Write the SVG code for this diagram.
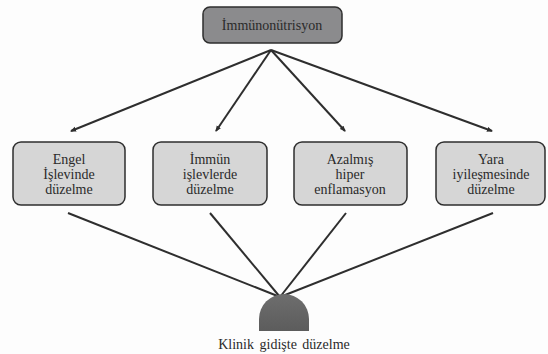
<svg xmlns="http://www.w3.org/2000/svg" width="548" height="354" viewBox="0 0 548 354">
<style>
.box{stroke:#2e2e2e;stroke-width:1.5}
.sub{fill:#d6d6d6}
.top{fill:#8b8b8d}
.t{font-family:'Liberation Serif','Times New Roman',serif;font-size:14px;fill:#2a2a2a;text-anchor:middle}
.ln{stroke:#2e2e2e;stroke-width:2;fill:none}
</style>
<defs>
<marker id="ah" markerWidth="6" markerHeight="6" refX="5" refY="3" orient="auto" markerUnits="userSpaceOnUse">
<path d="M0,0.5 L6,3 L0,5.5 Z" fill="#2e2e2e"/>
</marker>
<linearGradient id="dome" x1="0" y1="0" x2="0" y2="1">
<stop offset="0" stop-color="#6e6e6e"/>
<stop offset="1" stop-color="#5c5c5c"/>
</linearGradient>
</defs>
<rect width="548" height="354" fill="#fdfdfd"/>
<g id="connectors">
<line class="ln" x1="271" y1="50" x2="71" y2="131" marker-end="url(#ah)"/>
<line class="ln" x1="271" y1="50" x2="216" y2="131" marker-end="url(#ah)"/>
<line class="ln" x1="271" y1="50" x2="345" y2="131" marker-end="url(#ah)"/>
<line class="ln" x1="271" y1="50" x2="492" y2="131" marker-end="url(#ah)"/>
<line class="ln" x1="68" y1="213" x2="280" y2="297"/>
<line class="ln" x1="210" y1="213" x2="280" y2="297"/>
<line class="ln" x1="346" y1="213" x2="280" y2="297"/>
<line class="ln" x1="493" y1="213" x2="280" y2="297"/>
</g>
<g id="n-top">
<rect class="box top" x="203" y="7" width="139" height="36" rx="7"/>
<text class="t" x="272" y="30">İmmünonütrisyon</text>
</g>
<g id="n1">
<rect class="box sub" x="13" y="142" width="112" height="63" rx="8"/>
<text class="t" x="69" y="164">Engel</text>
<text class="t" x="69" y="179">İşlevinde</text>
<text class="t" x="69" y="194">düzelme</text>
</g>
<g id="n2">
<rect class="box sub" x="153" y="142" width="114" height="63" rx="8"/>
<text class="t" x="210" y="164">İmmün</text>
<text class="t" x="210" y="179">işlevlerde</text>
<text class="t" x="210" y="194">düzelme</text>
</g>
<g id="n3">
<rect class="box sub" x="294" y="142" width="113" height="63" rx="8"/>
<text class="t" x="350" y="164">Azalmış</text>
<text class="t" x="350" y="179">hiper</text>
<text class="t" x="350" y="194">enflamasyon</text>
</g>
<g id="n4">
<rect class="box sub" x="436" y="142" width="109" height="63" rx="8"/>
<text class="t" x="491" y="164">Yara</text>
<text class="t" x="491" y="179">iyileşmesinde</text>
<text class="t" x="491" y="194">düzelme</text>
</g>
<g id="n-out">
<path d="M259,331 L259,319 A25,25 0 0 1 309,319 L309,331 Z" fill="url(#dome)"/>
<text class="t" x="284" y="349" style="word-spacing:2px">Klinik gidişte düzelme</text>
</g>
</svg>
